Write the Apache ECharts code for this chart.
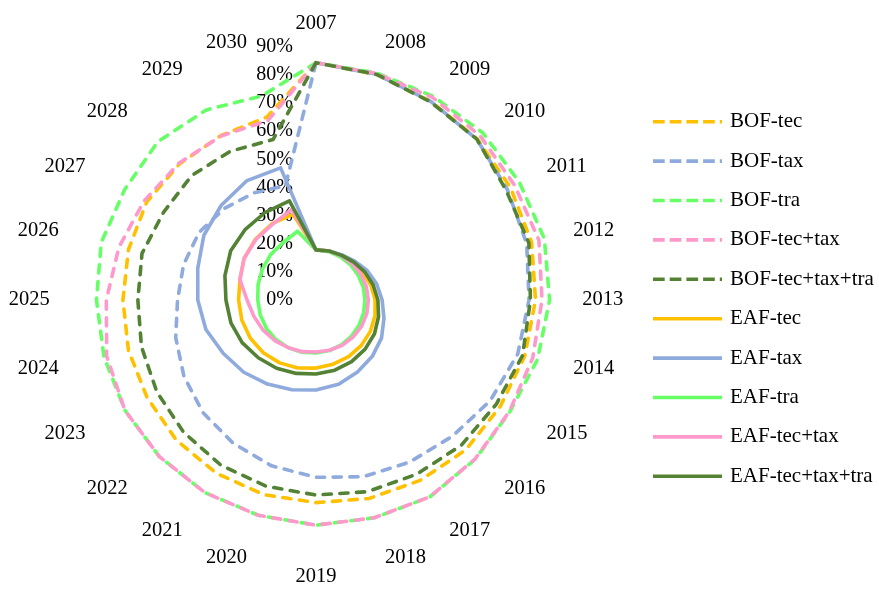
<!DOCTYPE html>
<html>
<head>
<meta charset="utf-8">
<script src="https://cdn.jsdelivr.net/npm/echarts@6/dist/echarts.min.js"></script>
<style>
  html, body { margin: 0; padding: 0; background: #ffffff; }
  #chart { width: 879px; height: 590px; }
</style>
</head>
<body>
<div id="chart"></div>
<script>
// Years around the dial, clockwise from the top
const years = ['2007', '2008', '2009', '2010', '2011', '2012', '2013', '2014',
  '2015', '2016', '2017', '2018', '2019', '2020', '2021', '2022', '2023', '2024',
  '2025', '2026', '2027', '2028', '2029', '2030'];

// Radial scale (percent)
const radialTicks = [0, 10, 20, 30, 40, 50, 60, 70, 80, 90];

// Shares by year, percent
const bofTec = [84.3, 83, 81.5, 81, 79.8, 79.3, 78, 76.8, 75.6, 75.3, 74, 73, 72,
  71.6, 71, 70.3, 69.3, 69, 68.6, 69, 69.5, 68.5, 67.5, 67.3];
const bofTax = [84.3, 83, 81.5, 80.8, 78.5, 77.5, 75.7, 74.2, 71.5, 68.5, 66.5, 65, 63,
  61, 58.8, 56.7, 54.2, 51.6, 49.2, 48.7, 48, 46, 44, 42];
const bofTra = [84.3, 83.5, 83.5, 83.9, 83.5, 84, 83, 81.5, 79.5, 80, 80.8, 80.1, 80,
  79.2, 79, 78.7, 78.4, 78, 78, 79, 78.5, 79.5, 78, 75];
const bofTecTax = [84.3, 83.3, 83, 82.5, 81.5, 82, 80.3, 79.7, 79.3, 79.9, 80.8, 80.1, 80,
  79.2, 79, 78.7, 78.4, 77, 74.5, 72.5, 70.5, 68.8, 67.3, 66];
const bofTecTaxTra = [84.3, 83, 81.3, 80.8, 78, 78.3, 76.2, 76, 74, 73, 71.5, 70.5, 69.3,
  68.5, 67.7, 66.5, 65.3, 64.2, 63.3, 64, 62.5, 62.5, 61, 59];

const eafTec = [17.8, 18, 18.2, 18.6, 19.3, 20.2, 21, 21.7, 22.3, 22.8, 23.2, 23.6, 24.2,
  25, 25.8, 26.5, 27, 27.3, 27.5, 28, 29.5, 30.5, 31.3, 31.5];
const eafTax = [17.8, 18, 18.5, 19.5, 21, 22.3, 23.5, 25, 26.9, 28.3, 29.5, 31, 32,
  33, 34.5, 36.3, 38, 40.5, 42, 43.5, 46, 47.6, 49, 48.6];
const eafTra = [17.8, 17.8, 17.6, 17.5, 17.4, 17.4, 17.4, 17.5, 17.7, 18, 18.3, 18.6, 18.8,
  19.2, 19.6, 20, 20.3, 20.5, 20.7, 21.3, 22, 22.8, 23.5, 25.3];
const eafTecTax = [17.8, 18, 18.1, 18.2, 18.4, 18.5, 18.6, 18.7, 18.7, 18.6, 18.6, 18.5, 18.5,
  19, 19.6, 20.5, 21.6, 22.8, 24.5, 28, 29.5, 30.3, 31, 33.3];
const eafTecTaxTra = [17.8, 18, 18.3, 19, 20, 21, 22, 23, 24, 24.7, 25.3, 25.8, 26.3,
  27, 28, 29, 30.3, 31.3, 32, 33.5, 35, 35.5, 36, 36.5];

const seriesNames = ['BOF-tec', 'BOF-tax', 'BOF-tra', 'BOF-tec+tax', 'BOF-tec+tax+tra',
  'EAF-tec', 'EAF-tax', 'EAF-tra', 'EAF-tec+tax', 'EAF-tec+tax+tra'];
const seriesValues = [bofTec, bofTax, bofTra, bofTecTax, bofTecTaxTra,
  eafTec, eafTax, eafTra, eafTecTax, eafTecTaxTra];
const seriesColors = ['#FFC000', '#8FAADC', '#66FF66', '#FF99CC', '#548235',
  '#FFC000', '#8FAADC', '#66FF66', '#FF99CC', '#548235'];
const seriesDashed = [true, true, true, true, true, false, false, false, false, false];

const FONT = 'Liberation Serif';
const CX = 316, CY = 300, R = 253.3;

// ECharts lays radar indicators out counter-clockwise; keep the first year on top
// and reverse the rest so the years run clockwise.
const clockwise = arr => [arr[0]].concat(arr.slice(1).reverse());

const dashIcon = 'path://M0,0h11.7v3.6h-11.7z M16.7,0h11.7v3.6h-11.7z M33.4,0h11.7v3.6h-11.7z M50.1,0h11.7v3.6h-11.7z M66.8,0h2.2v3.6h-2.2z';
const solidIcon = 'path://M0,0h69v3.6h-69z';

const chart = echarts.init(document.getElementById('chart'), null, { renderer: 'canvas' });

chart.setOption({
  animation: false,
  backgroundColor: '#ffffff',
  radar: {
    center: [CX, CY],
    radius: R,
    startAngle: 90,
    splitNumber: 9,
    nameGap: 13,
    indicator: clockwise(years).map(y => ({ name: y, min: 0, max: 90 })),
    axisName: { color: '#000', fontFamily: FONT, fontSize: 20.5 },
    axisLine: { show: false },
    axisTick: { show: false },
    axisLabel: { show: false },
    splitLine: { show: false },
    splitArea: { show: false }
  },
  polar: { center: [CX, CY], radius: R },
  angleAxis: { type: 'value', min: 0, max: 360, show: false },
  radiusAxis: {
    type: 'value', min: 0, max: 90, interval: 10,
    axisLine: { show: false }, axisTick: { show: false }, splitLine: { show: false },
    axisLabel: {
      margin: 23, color: '#000', fontFamily: FONT, fontSize: 20,
      formatter: v => radialTicks.includes(v) ? v + '%' : ''
    }
  },
  legend: {
    orient: 'vertical',
    left: 648,
    top: 106.2,
    itemWidth: 69,
    itemHeight: 3.6,
    itemGap: 18.4,
    selectedMode: false,
    itemStyle: { borderWidth: 0 },
    textStyle: { color: '#000', fontFamily: FONT, fontSize: 21, padding: [0, 0, 0, 3] },
    data: seriesNames.map((n, i) => ({ name: n, icon: seriesDashed[i] ? dashIcon : solidIcon }))
  },
  series: seriesNames.map((n, i) => ({
    type: 'radar',
    name: n,
    symbol: 'none',
    silent: true,
    itemStyle: { color: seriesColors[i] },
    lineStyle: {
      color: seriesColors[i],
      width: 3.6,
      type: seriesDashed[i] ? [8.2, 8.5] : 'solid',
      cap: 'round',
      join: 'round'
    },
    data: [{ name: n, value: clockwise(seriesValues[i]) }]
  }))
});
</script>
</body>
</html>
